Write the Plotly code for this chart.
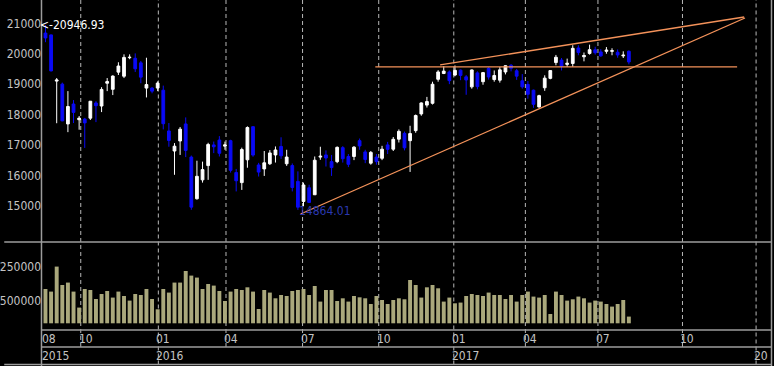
import plotly.graph_objects as go

# ---------------- data (weekly candles, Aug 2015 - Aug 2017) ----------------
weeks = list(range(105))
opens = [20680, 20620, 19100, 19000, 17690, 18345, 17830, 17850, 17880, 18380,
         18280, 19030, 18830, 19395, 19260, 19870, 19850, 19700, 18870, 18870,
         18870, 18800, 17460, 16800, 17130, 17690, 16600, 15230, 15850, 16320,
         17000, 17160, 16960, 17140, 16090, 15760, 16510, 17600, 16340, 16210,
         16380, 16670, 16950, 16380, 16320, 15800, 15140, 15590, 15360, 16600,
         16670, 16450, 16450, 16910, 16620, 16620, 17140, 16770, 16400, 16600,
         16560, 17000, 16860, 17190, 17380, 17140, 17470, 18020, 18310, 18370,
         19160, 19350, 19400, 19300, 19460, 19240, 18910, 19370, 19080, 19520,
         19150, 19130, 19400, 19620, 19440, 19110, 18990, 18800, 18250, 18880,
         19190, 19710, 19790, 19650, 19680, 20190, 19900, 20010, 20130, 20060,
         20080, 20080, 20050, 19930, 20080]
highs = [20946.93, 20630, 19200, 19050, 18770, 18475, 17950, 17890, 18440, 18440,
         18900, 19200, 19290, 19720, 19980, 19980, 20012, 19760, 19869, 18900,
         19090, 18951, 17720, 17060, 17590, 17905, 16650, 16480, 16450, 17070,
         17110, 17290, 17110, 17170, 16210, 16910, 17610, 17613, 16410, 16800,
         16830, 16950, 17251, 16840, 16390, 16130, 15760, 15690, 16620, 16940,
         16820, 16670, 16950, 16960, 16700, 16960, 17210, 16840, 16800, 16700,
         16970, 17100, 17260, 17510, 17440, 17630, 18000, 18400, 18580, 19080,
         19460, 19592, 19450, 19615, 19480, 19300, 19480, 19420, 19400, 19560,
         19450, 19560, 19620, 19660, 19500, 19330, 19100, 18820, 18650, 19290,
         19450, 19960, 19860, 19840, 20280, 20280, 20040, 20300, 20230, 20150,
         20220, 20180, 20140, 20080, 20110]
lows = [20380, 19420, 17714, 17780, 17420, 17720, 17500, 16901, 17820, 17750,
        18080, 18770, 18640, 19300, 19200, 19820, 19400, 19030, 18562, 18700,
        18770, 17510, 16940, 16017, 16670, 16600, 14866, 15200, 15760, 15850,
        16730, 16620, 16840, 16090, 15470, 15520, 16250, 16610, 15960, 15980,
        16340, 16420, 16540, 16310, 15470, 14864.01, 14980, 15090, 15360, 16510,
        16290, 15980, 16400, 16420, 16270, 16500, 16840, 16400, 16350, 16350,
        16500, 16700, 16800, 17080, 16820, 16111, 17400, 17960, 18230, 18330,
        19080, 19330, 19000, 19260, 19130, 18650, 18850, 18830, 18980, 19150,
        19080, 19050, 19320, 19420, 19140, 18850, 18520, 18220, 18224, 18780,
        19160, 19620, 19450, 19570, 19570, 19950, 19750, 19970, 19970, 19900,
        20000, 19950, 19870, 19860, 19650]
closes = [20520, 19436, 19136, 17792, 18264, 18070, 17880, 17725, 18438, 18291,
          18825, 19083, 19265, 19596, 19879, 19883, 19504, 19230, 18986, 18769,
          19034, 17698, 17147, 16958, 17518, 16820, 14953, 15967, 16188, 17015,
          16939, 16725, 17002, 16164, 15821, 16848, 17572, 16666, 16106, 16412,
          16736, 16834, 16642, 16601, 15600, 14952, 15682, 15107, 16497, 16627,
          16569, 16254, 16920, 16546, 16361, 16926, 16965, 16519, 16754, 16450,
          16860, 16856, 17185, 17446, 16905, 17374, 17968, 18381, 18427, 18997,
          19401, 19428, 19114, 19454, 19287, 19138, 19467, 18918, 19379, 19235,
          19284, 19470, 19605, 19522, 19263, 18910, 18665, 18336, 18621, 19197,
          19446, 19884, 19591, 19687, 20178, 20040, 19943, 20133, 20033, 19930,
          20118, 20100, 19960, 19952, 19730]
volumes = [761000, 704000, 1259000, 850000, 904000, 704000, 349000, 761000, 739000, 539000,
           650000, 717000, 571000, 704000, 606000, 504000, 650000, 628000, 761000, 539000,
           311000, 761000, 682000, 904000, 904000, 1161000, 1059000, 1015000, 761000, 872000,
           837000, 717000, 495000, 704000, 761000, 739000, 799000, 704000, 317000, 739000,
           682000, 555000, 628000, 606000, 717000, 739000, 761000, 628000, 828000, 482000,
           739000, 739000, 495000, 555000, 482000, 606000, 577000, 555000, 428000, 606000,
           517000, 428000, 517000, 555000, 533000, 961000, 850000, 571000, 799000, 850000,
           777000, 482000, 571000, 444000, 460000, 606000, 650000, 628000, 606000, 682000,
           628000, 628000, 539000, 628000, 482000, 628000, 704000, 593000, 571000, 628000,
           206000, 704000, 628000, 504000, 533000, 593000, 555000, 460000, 504000, 482000,
           428000, 371000, 428000, 517000, 149000]

price_ticks = [15000, 16000, 17000, 18000, 19000, 20000, 21000]
price_tick_text = ["15000", "16000", "17000", "18000", "19000", "20000", "21000"]
vol_ticks = [500000, 1250000]
vol_tick_text = ["500000", "250000"]

grid_pos = [6.29, 20.12, 32.18, 45.83, 59.41, 72.79, 85.55, 98.49, 113.56, 126.68]
month_labels = ["08", "10", "01", "04", "07", "10", "01", "04", "07", "10"]
month_pos = [-0.3] + grid_pos[:9]
year_labels = ["2015", "2016", "2017", "20"]
year_pos = [-0.3, grid_pos[1], grid_pos[5], grid_pos[9]]

# trend lines (x = week index, y = price)
support_x = [45.48, 124.7]
support_y = [14727, 21176]
resist_x = [70.35, 124.56]
resist_y = [19630, 21209]
level_x = [58.8, 123.3]
level_y = [19570, 19570]

high_label = "<-20946.93"
low_label = "14864.01"

# ---------------- figure ----------------
FONT = "Liberation Sans Narrow, DejaVu Sans Condensed, Liberation Sans, sans-serif"
LBL = "#c4c4c4"
BORDER = "#9c9c9c"
GRID = "#b8b8b8"
ORANGE = "#f4925a"

fig = go.Figure()
fig.add_trace(go.Candlestick(
    x=weeks, open=opens, high=highs, low=lows, close=closes,
    increasing=dict(line=dict(color="#ffffff", width=1), fillcolor="#ffffff"),
    decreasing=dict(line=dict(color="#0a0af5", width=1), fillcolor="#0a0af5"),
    whiskerwidth=0, xaxis="x", yaxis="y", hoverinfo="skip", showlegend=False))

for lx, ly in [(support_x, support_y), (resist_x, resist_y), (level_x, level_y)]:
    fig.add_trace(go.Scatter(x=lx, y=ly, mode="lines",
                             line=dict(color=ORANGE, width=1.3),
                             xaxis="x", yaxis="y", hoverinfo="skip", showlegend=False))

fig.add_trace(go.Bar(x=weeks, y=volumes, marker=dict(color="#aaa87c", line=dict(width=0)),
                     xaxis="x2", yaxis="y2", hoverinfo="skip", showlegend=False))

xr = [-0.62, 129.34]
shapes = []
# gridlines
for i, g in enumerate(grid_pos):
    y0 = -0.1045 if i in (1, 5, 9) else -0.0515
    shapes.append(dict(type="line", xref="x", yref="paper", x0=g, x1=g, y0=y0, y1=1,
                       line=dict(color=GRID, width=1, dash="4px,3px"), layer="below"))
# borders
def hline(y, x0, x1):
    shapes.append(dict(type="line", xref="paper", yref="paper", x0=x0, x1=x1, y0=y, y1=y,
                       line=dict(color=BORDER, width=1.5)))
def vline(x):
    shapes.append(dict(type="line", xref="paper", yref="paper", x0=x, x1=x, y0=-0.109, y1=1,
                       line=dict(color=BORDER, width=1.5)))
hline(88 / 330, -0.0518, 1.0)
hline(0.0, 0.0, 1.0)
hline(-17 / 330, 0.0, 1.0)
hline(-34.5 / 330, -0.0518, 1.0)
vline(-0.0007)
vline(1.0007)

annotations = []
for t, p in zip(month_labels, month_pos):
    annotations.append(dict(text=t, x=p, xref="x", y=-9 / 330, yref="paper", xanchor="left",
                            yanchor="middle", xshift=-4, showarrow=False,
                            font=dict(family=FONT, size=12, color=LBL)))
for t, p in zip(year_labels, year_pos):
    annotations.append(dict(text=t, x=p, xref="x", y=-26 / 330, yref="paper", xanchor="left",
                            yanchor="middle", xshift=-4, showarrow=False,
                            font=dict(family=FONT, size=12, color=LBL)))
annotations.append(dict(text=high_label, x=weeks[0] - 0.35, y=highs[0], xref="x", yref="y",
                        xanchor="left", yanchor="middle", xshift=-6, showarrow=False,
                        font=dict(family=FONT, size=12, color="#ffffff")))
annotations.append(dict(text=low_label, x=weeks[45] + 0.3, y=lows[45], xref="x", yref="y",
                        xanchor="left", yanchor="middle", yshift=-1, xshift=-3, showarrow=False,
                        font=dict(family=FONT, size=12, color="#2a38b0")))

fig.update_layout(
    width=774, height=366,
    margin=dict(l=38, r=3, t=0, b=36),
    paper_bgcolor="#000000", plot_bgcolor="rgba(0,0,0,0)",
    bargap=0.3, boxgap=0.3,
    xaxis=dict(domain=[0, 1], range=xr, anchor="y", showgrid=False, zeroline=False,
               showticklabels=False, showline=False, rangeslider=dict(visible=False),
               fixedrange=True),
    xaxis2=dict(domain=[0, 1], range=xr, anchor="y2", showgrid=False, zeroline=False,
                showticklabels=False, showline=False, matches="x"),
    yaxis=dict(domain=[88 / 330, 1], range=[13806, 21768], tickvals=price_ticks,
               ticktext=price_tick_text,
               showgrid=False, zeroline=False, showline=False, ticks="",
               tickfont=dict(family=FONT, size=12, color=LBL)),
    yaxis2=dict(domain=[0, 87 / 330], range=[-148740, 1782660], tickvals=vol_ticks,
                ticktext=vol_tick_text, showgrid=False, zeroline=False, showline=False,
                ticks="", tickfont=dict(family=FONT, size=12, color=LBL)),
    shapes=shapes, annotations=annotations, showlegend=False,
)

fig.write_html("out.html")
